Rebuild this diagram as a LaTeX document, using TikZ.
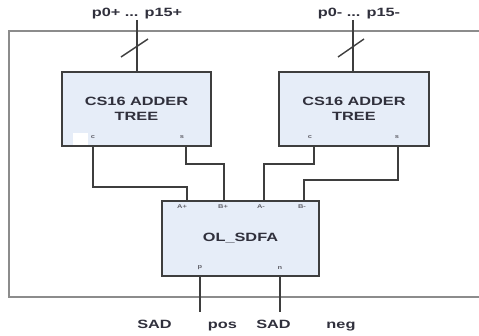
\documentclass[tikz,border=0pt]{standalone}
\usepackage{fontspec}
\setmainfont[FakeStretch=1.36]{Liberation Sans}
\definecolor{boxfill}{HTML}{E6EDF8}
\definecolor{boxline}{HTML}{3E3E3E}
\definecolor{outerline}{HTML}{8C8C8C}
\definecolor{txt}{HTML}{30303C}
\begin{document}
\begin{tikzpicture}[x=1pt,y=-1pt,
  blockbox/.style={draw=boxline,line width=1.8pt,fill=boxfill,text=txt,font=\bfseries\fontsize{12}{15}\selectfont,align=center,inner sep=0pt},
  wire/.style={draw=boxline,line width=1.6pt},
  port/.style={text=txt!75,font=\bfseries\fontsize{5.5}{6}\selectfont,inner sep=0pt},
  lbl/.style={text=txt,font=\bfseries\fontsize{12}{14}\selectfont,inner sep=0pt,anchor=base},
  slashline/.style={draw=boxline,line width=1.4pt}]
\useasboundingbox (0,0) rectangle (479,336);
% outer frame
\draw[outerline,line width=1.3pt] (479,31) -- (9,31) -- (9,297) -- (479,297);
% blocks
\node[blockbox,minimum width=149pt,minimum height=74pt] (ladd) at (136.5,109) {CS16 ADDER\\TREE};
\node[blockbox,minimum width=150pt,minimum height=74pt] (radd) at (354,109) {CS16 ADDER\\TREE};
\node[blockbox,minimum width=157pt,minimum height=75pt] (sdfa) at (240.5,238.5) {OL\_SDFA};
\fill[white] (73,133) rectangle (88,145);
% port labels
\node[port] (lc) at (93,137) {c};
\node[port] (ls) at (182,137) {s};
\node[port] (rc) at (310,137) {c};
\node[port] (rs) at (397,137) {s};
\node[port] (ap) at (182,207) {A+};
\node[port] (bp) at (223,207) {B+};
\node[port] (am) at (261,207) {A-};
\node[port] (bm) at (302,207) {B-};
\node[port] (pp) at (200,268) {p};
\node[port] (nn) at (280,268) {n};
% inputs
\node[lbl] (inp) at (137,17) {p0+ ... p15+};
\node[lbl] (inm) at (359,17) {p0- ... p15-};
\coordinate (tinp) at (137,20);
\coordinate (tinm) at (353,20);
\draw[wire] (tinp) -- (tinp |- ladd.north);
\draw[wire] (tinm) -- (tinm |- radd.north);
\coordinate (sl1a) at (121,57); \coordinate (sl1b) at (148,39);
\coordinate (sl2a) at (338,57); \coordinate (sl2b) at (364,39);
\draw[slashline] (sl1a) -- (sl1b);
\draw[slashline] (sl2a) -- (sl2b);
% wire x positions
\coordinate (xlc) at (93,0);  \coordinate (xls) at (186,0);
\coordinate (xrc) at (314,0); \coordinate (xrs) at (398,0);
\coordinate (xap) at (187,0); \coordinate (xbp) at (224,0);
\coordinate (xam) at (264,0); \coordinate (xbm) at (304,0);
\draw[wire] (xlc |- ladd.south) -- ++(0,40) -| (xap |- sdfa.north);
\draw[wire] (xls |- ladd.south) -- ++(0,17) -| (xbp |- sdfa.north);
\draw[wire] (xrc |- radd.south) -- ++(0,17) -| (xam |- sdfa.north);
\draw[wire] (xrs |- radd.south) -- ++(0,33) -| (xbm |- sdfa.north);
% outputs
\coordinate (outp) at (200,312);
\coordinate (outn) at (280,312);
\draw[wire] (outp |- sdfa.south) -- (outp);
\draw[wire] (outn |- sdfa.south) -- (outn);
% output labels
\node[lbl] (sad1) at (154.5,329) {SAD};
\node[lbl] (pos) at (222.5,329) {pos};
\node[lbl] (sad2) at (273.5,329) {SAD};
\node[lbl] (neg) at (341,329) {neg};
\end{tikzpicture}
\end{document}
